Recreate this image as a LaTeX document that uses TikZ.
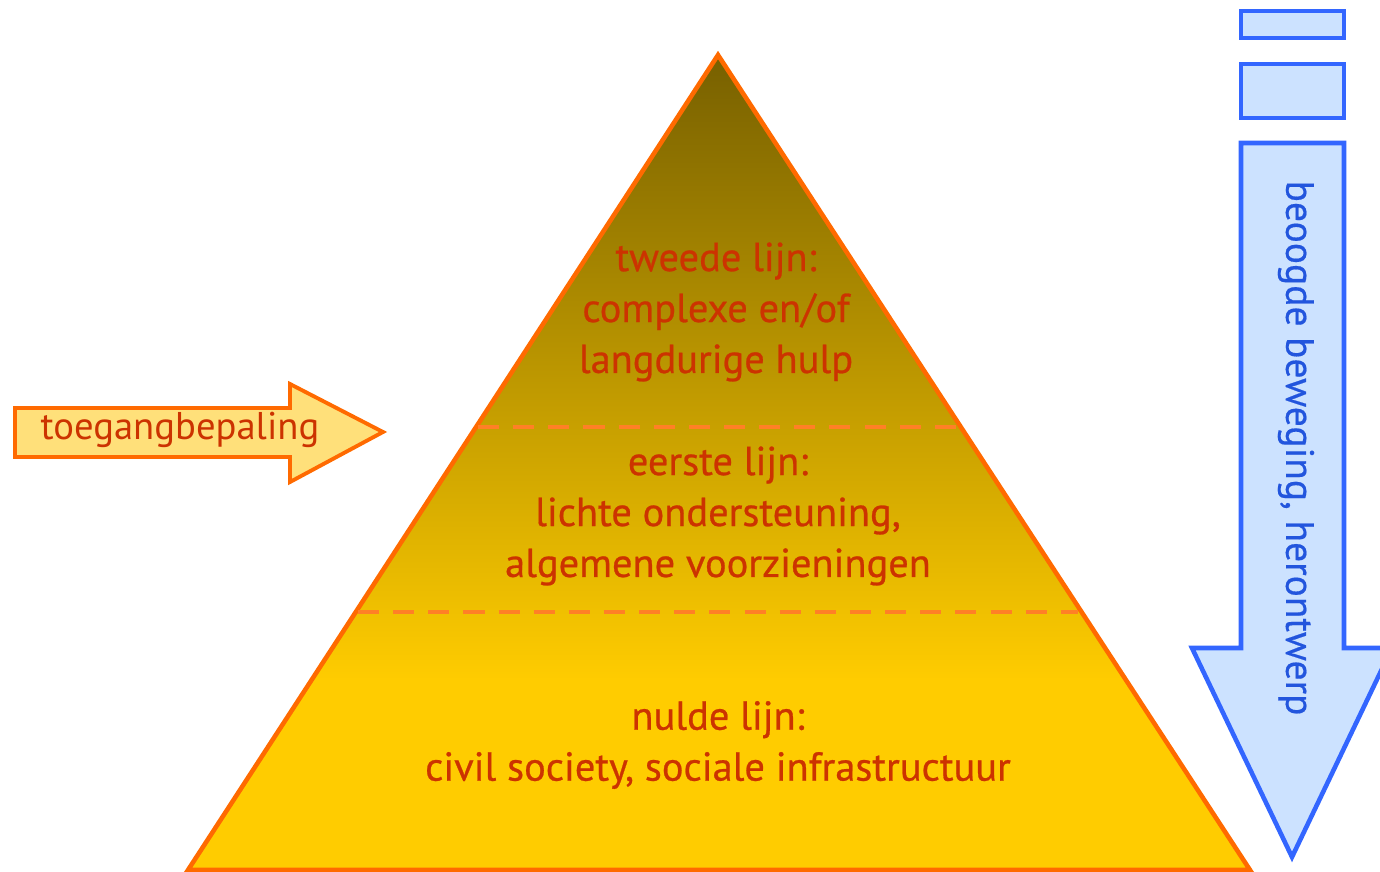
\documentclass[tikz,border=0pt]{standalone}
\usepackage{fontspec}
\setmainfont{PT Sans}
\definecolor{porange}{HTML}{FF6A00}
\definecolor{ptext}{HTML}{CC3300}
\definecolor{ptop}{HTML}{776000}
\definecolor{pbot}{HTML}{FFCC00}
\definecolor{ayel}{HTML}{FFE07A}
\definecolor{bfill}{HTML}{CCE2FF}
\definecolor{bline}{HTML}{3366FF}
\definecolor{btext}{HTML}{2255DD}
\tikzset{
  lvltext/.style={text=ptext, font=\fontsize{23}{29}\selectfont\addfontfeature{FakeBold=0.6}, align=center, inner sep=0pt},
  dashsep/.style={draw=porange!85, line width=2.2pt, dash pattern=on 12pt off 8pt},
  bluebox/.style={fill=bfill, draw=bline, line width=2.6pt},
}
\begin{document}
\begin{tikzpicture}[x=0.02cm, y=-0.02cm]
\useasboundingbox (0,0) rectangle (1380,872);
% pyramid
\coordinate (apex) at (718,55);
\coordinate (bl) at (188,870);
\coordinate (br) at (1250,870);
\begin{scope}
  \clip (apex) -- (bl) -- (br) -- cycle;
  \fill[pbot] (150,40) rectangle (1300,880);
  \shade[top color=ptop, bottom color=pbot] (150,55) rectangle (1300,680);
\end{scope}
\draw[porange, line width=2.6pt, line join=miter] (apex) -- (bl) -- (br) -- cycle;
% dashed separators
\coordinate (d1l) at (478,427); \coordinate (d1r) at (958,427);
\coordinate (d2l) at (358,612); \coordinate (d2r) at (1078,612);
\draw[dashsep] (d1l) -- (d1r);
\draw[dashsep] (d2l) -- (d2r);
% level texts
\node[lvltext] (t2) at (716,312) {tweede lijn:\\complexe en/of\\langdurige hulp};
\node[lvltext] (t1) at (718,516) {eerste lijn:\\lichte ondersteuning,\\algemene voorzieningen};
\node[lvltext] (t0) at (718,745) {nulde lijn:\\civil society, sociale infrastructuur};
% left arrow
\draw[fill=ayel, draw=porange, line width=2.2pt, line join=miter]
  (15,408) -- (290,408) -- (290,384) -- (383,432) -- (290,482) -- (290,457) -- (15,457) -- cycle;
\node[text=ptext, font=\fontsize{22}{26}\selectfont, inner sep=0pt] (tb) at (180,430) {toegangbepaling};
% blue elements
\draw[bluebox] (1241,11) rectangle (1344,38);
\draw[bluebox] (1241,64) rectangle (1344,118);
\draw[bluebox, line join=miter]
  (1241,143) -- (1344,143) -- (1344,648) -- (1392,648) -- (1292,857) -- (1192,648) -- (1241,648) -- cycle;
\node[text=btext, font=\fontsize{22.5}{26}\selectfont\addfontfeature{FakeBold=0.4}, rotate=-90, inner sep=0pt] (bt) at (1296,448) {beoogde beweging, herontwerp};
\end{tikzpicture}
\end{document}
